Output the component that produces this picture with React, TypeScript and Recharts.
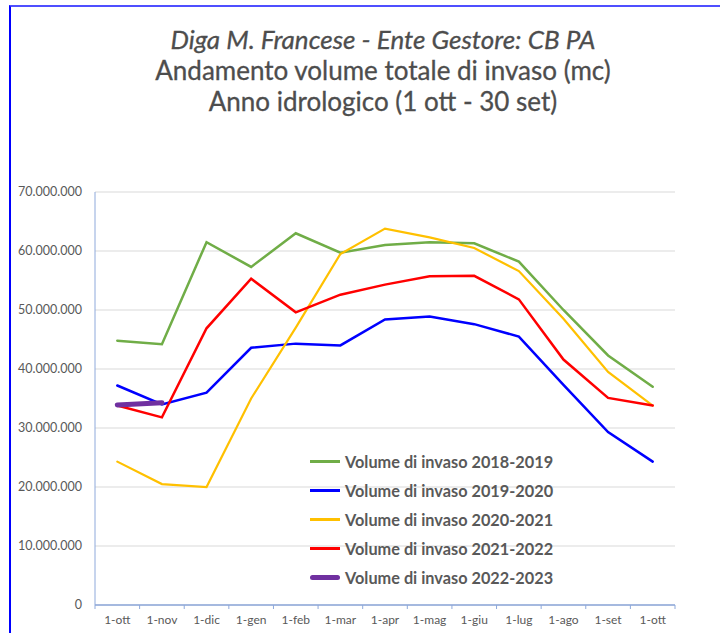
import React from "react";
import {
  LineChart,
  Line,
  XAxis,
  YAxis,
  CartesianGrid,
} from "recharts";

const months = [
  "1-ott", "1-nov", "1-dic", "1-gen", "1-feb", "1-mar", "1-apr",
  "1-mag", "1-giu", "1-lug", "1-ago", "1-set", "1-ott",
];

const vol2018 = [44.8, 44.2, 61.5, 57.3, 63.0, 59.7, 61.0, 61.5, 61.3, 58.2, 50.0, 42.3, 37.0];
const vol2019 = [37.2, 34.0, 36.0, 43.6, 44.3, 44.0, 48.4, 48.9, 47.6, 45.5, 37.3, 29.3, 24.3];
const vol2020 = [24.3, 20.5, 20.0, 35.0, 47.0, 59.5, 63.8, 62.3, 60.5, 56.6, 48.5, 39.5, 33.8];
const vol2021 = [33.8, 31.8, 46.9, 55.3, 49.6, 52.6, 54.3, 55.7, 55.8, 51.8, 41.6, 35.1, 33.8];
const vol2022 = [33.9, 34.3];

const yTicks = [0, 10e6, 20e6, 30e6, 40e6, 50e6, 60e6, 70e6];

const series = [
  { key: "s2018", name: "Volume di invaso 2018-2019", values: vol2018, color: "#70AD47", width: 2.5 },
  { key: "s2019", name: "Volume di invaso 2019-2020", values: vol2019, color: "#0000FF", width: 2.5 },
  { key: "s2020", name: "Volume di invaso 2020-2021", values: vol2020, color: "#FFC000", width: 2.2 },
  { key: "s2021", name: "Volume di invaso 2021-2022", values: vol2021, color: "#FF0000", width: 2.5 },
  { key: "s2022", name: "Volume di invaso 2022-2023", values: vol2022, color: "#7030A0", width: 5 },
];

const rows = months.map((m, i) => {
  const row: Record<string, number | string | null> = { i, month: m };
  series.forEach((s) => {
    row[s.key] = i < s.values.length ? s.values[i] * 1e6 : null;
  });
  return row;
});

const fmt = (v: number) =>
  String(Math.round(v)).replace(/\B(?=(\d{3})+(?!\d))/g, ".");

const FONT = "Lato, 'Open Sans', sans-serif";
const GREY = "#595959";
const AXIS = "#8EA9DB";

const PLOT_LEFT = 95;
const PLOT_RIGHT = 675;
const STEP = (PLOT_RIGHT - PLOT_LEFT) / months.length;

const MonthTick = (props: any) => {
  const { x, y, payload, index } = props;
  return (
    <g>
      <line x1={x - STEP / 2} y1={y - 8} x2={x - STEP / 2} y2={y - 4} stroke={AXIS} />
      {index === months.length - 1 && (
        <line x1={x + STEP / 2} y1={y - 8} x2={x + STEP / 2} y2={y - 4} stroke={AXIS} />
      )}
      <text x={x} y={y + 11} textAnchor="middle" fill={GREY} fontSize={12} fontFamily={FONT}>
        {months[payload.value]}
      </text>
    </g>
  );
};

export default function App() {
  return (
    <div style={{ position: "absolute", left: 0, top: 0, width: 720, height: 633, background: "#fff" }}>
      <div
        style={{
          position: "absolute",
          left: 9,
          top: 5,
          right: 0,
          bottom: 0,
          borderTop: "2px solid #4F4FFF",
          borderLeft: "2px solid #0000FF",
        }}
      />
      <div
        style={{
          position: "absolute",
          left: 0,
          width: 766,
          top: 24,
          textAlign: "center",
          fontFamily: FONT,
          color: "#4d4d4d",
          fontSize: 26,
          lineHeight: "31px",
          WebkitTextStroke: "0.3px #4d4d4d",
        }}
      >
        <div style={{ fontStyle: "italic" }}>Diga M. Francese - Ente Gestore: CB PA</div>
        <div>Andamento volume totale di invaso (mc)</div>
        <div>Anno idrologico (1 ott - 30 set)</div>
      </div>
      <LineChart
        width={720}
        height={633}
        data={rows}
        margin={{ top: 192, right: 720 - PLOT_RIGHT, bottom: 0, left: 0 }}
        style={{ position: "absolute", left: 0, top: 0 }}
      >
        <CartesianGrid vertical={false} stroke="#D9D9D9" />
        <XAxis
          dataKey="i"
          type="number"
          domain={[-0.5, months.length - 0.5]}
          ticks={months.map((_, i) => i)}
          tick={<MonthTick />}
          tickLine={false}
          axisLine={{ stroke: AXIS, strokeWidth: 1.5 }}
          height={28}
          interval={0}
        />
        <YAxis
          width={PLOT_LEFT}
          domain={[0, 70e6]}
          ticks={yTicks}
          tickFormatter={fmt}
          tickLine={false}
          axisLine={{ stroke: AXIS }}
          tick={{ fill: GREY, fontSize: 12.5, fontFamily: FONT }}
          tickMargin={7}
        />
        {series.map((s) => (
          <Line
            key={s.key}
            dataKey={s.key}
            name={s.name}
            stroke={s.color}
            strokeWidth={s.width}
            strokeLinecap="round"
            dot={false}
            isAnimationActive={false}
            connectNulls={false}
          />
        ))}
      </LineChart>
      <div style={{ position: "absolute", left: 310, top: 447, fontFamily: FONT }}>
        {series.map((s) => (
          <div key={s.key} style={{ display: "flex", alignItems: "center", height: 29 }}>
            <div
              style={{
                width: 30,
                height: s.width,
                background: s.color,
                borderRadius: s.width > 3 ? 3 : 0,
                marginRight: 5,
              }}
            />
            <span style={{ color: GREY, fontWeight: 700, fontSize: 16.3 }}>{s.name}</span>
          </div>
        ))}
      </div>
    </div>
  );
}
